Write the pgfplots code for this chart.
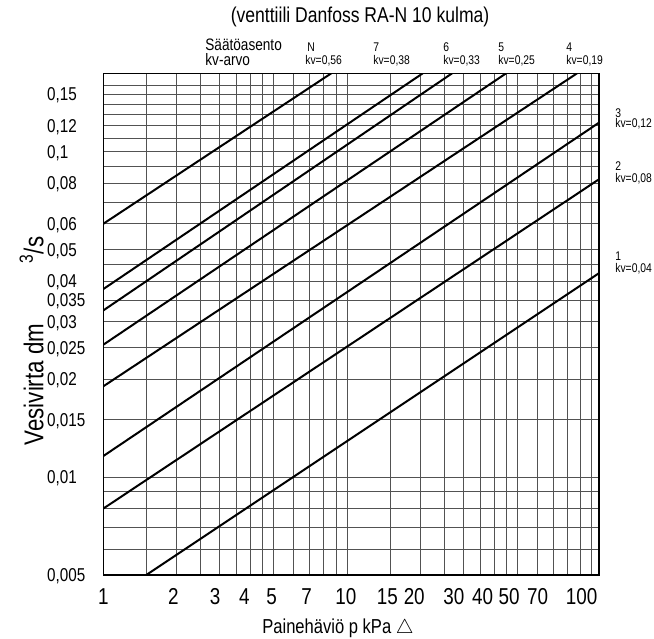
\documentclass[border=0pt]{standalone}
\usepackage{pgfplots}
\pgfplotsset{compat=1.18}
\usepackage{fontspec}
\setmainfont{Liberation Sans}[FakeStretch=0.82]
\begin{document}
\begin{tikzpicture}
\useasboundingbox (0,0) rectangle (327pt,319pt);
\begin{axis}[
  at={(51.65pt,31.5pt)}, anchor=south west,
  scale only axis, width=247.85pt, height=250.85pt,
  xmode=log, ymode=log,
  xmin=1, xmax=107.6, ymin=0.005, ymax=0.174,
  xtick={1,1.936,2.87,3.784,4.9,6.818,9.88,14.59,18.82,27.37,35.88,46.12,60.3,91.3},
  xticklabels={1,2,3,4,5,7,10,15,20,30,40,50,70,100},
  ytick={0.005,0.01,0.015,0.02,0.025,0.03,0.035,0.04,0.05,0.06,0.08,0.1,0.12,0.15},
  yticklabels={{0,005},{0,01},{0,015},{0,02},{0,025},{0,03},{0,035},{0,04},{0,05},{0,06},{0,08},{0,1},{0,12},{0,15}},
  minor xtick={1.5,2,2.5,3,3.5,4,4.5,5,6,7,8,9,10,15,20,25,30,35,40,45,50,60,70,80,90,100},
  minor ytick={0.006,0.007,0.008,0.009,0.01,0.015,0.02,0.025,0.03,0.035,0.04,0.045,0.05,0.06,0.07,0.08,0.09,0.1,0.11,0.12,0.13,0.14,0.15,0.16},
  major tick length=0pt, minor tick length=0pt,
  xminorgrids, yminorgrids,
  minor grid style={black!68, line width=0.45pt},
  axis line style={black, line width=0.6pt},
  tick label style={inner sep=0pt},
  xticklabel style={anchor=base, yshift=-14.6pt, font=\fontsize{11.5}{12}\selectfont},
  yticklabel style={anchor=base west, xshift=-28.3pt, yshift=-3.33pt, font=\fontsize{9.3}{10}\selectfont},
  xlabel={Painehäviö p kPa $\triangle$},
  xlabel style={at={(axis description cs:0.320,-0.1056)}, anchor=west, inner sep=0pt, font=\fontsize{10.1}{11}\selectfont},
  ylabel={Vesivirta dm\hspace{30pt}\textsuperscript{3}/s},
  ylabel style={at={(axis description cs:-0.1445,0.4664)}, anchor=center, inner sep=0pt, font=\fontsize{13.6}{15}\selectfont},
  title={(venttiili Danfoss RA-N 10 kulma)},
  every axis title shift=0pt,
  title style={at={(axis description cs:0.518,1.112)}, anchor=center, inner sep=0pt, font=\fontsize{10.7}{12}\selectfont},
]
\addplot[black, line width=1pt] coordinates {(1,0.060) (8.6,0.174)};
\addplot[black, line width=1pt] coordinates {(1,0.0378) (20.4,0.174)};
\addplot[black, line width=1pt] coordinates {(1,0.0325) (26.9,0.174)};
\addplot[black, line width=1pt] coordinates {(1,0.0255) (44.8,0.174)};
\addplot[black, line width=1pt] coordinates {(1,0.019) (87.5,0.174)};
\addplot[black, line width=1pt] coordinates {(1,0.0116) (107.6,0.1227)};
\addplot[black, line width=1pt] coordinates {(1,0.0080) (107.6,0.0822)};
\addplot[black, line width=1pt] coordinates {(1.5,0.005) (107.6,0.0423)};
\end{axis}
\begin{scope}[x=0.5pt,y=-0.5pt,shift={(0,319pt)}]
\tikzset{lbl/.style={anchor=west, inner sep=0pt, font=\fontsize{6.3}{7}\selectfont}}
\node[anchor=west, inner sep=0pt, font=\fontsize{8.3}{9}\selectfont] at (205,45) {Säätöasento};
\node[anchor=west, inner sep=0pt, font=\fontsize{8.3}{9}\selectfont] at (205,60) {kv-arvo};
\node[lbl] at (307,47) {N};
\node[lbl] at (305,61) {kv=0,56};
\node[lbl] at (373,47) {7};
\node[lbl] at (373,61) {kv=0,38};
\node[lbl] at (443,47) {6};
\node[lbl] at (443,61) {kv=0,33};
\node[lbl] at (498,47) {5};
\node[lbl] at (498,61) {kv=0,25};
\node[lbl] at (566,47) {4};
\node[lbl] at (566,61) {kv=0,19};
\node[lbl] at (615,113) {3};
\node[lbl] at (615,124) {kv=0,12};
\node[lbl] at (615,166) {2};
\node[lbl] at (615,179) {kv=0,08};
\node[lbl] at (615,256) {1};
\node[lbl] at (615,269) {kv=0,04};
\end{scope}
\end{tikzpicture}
\end{document}
